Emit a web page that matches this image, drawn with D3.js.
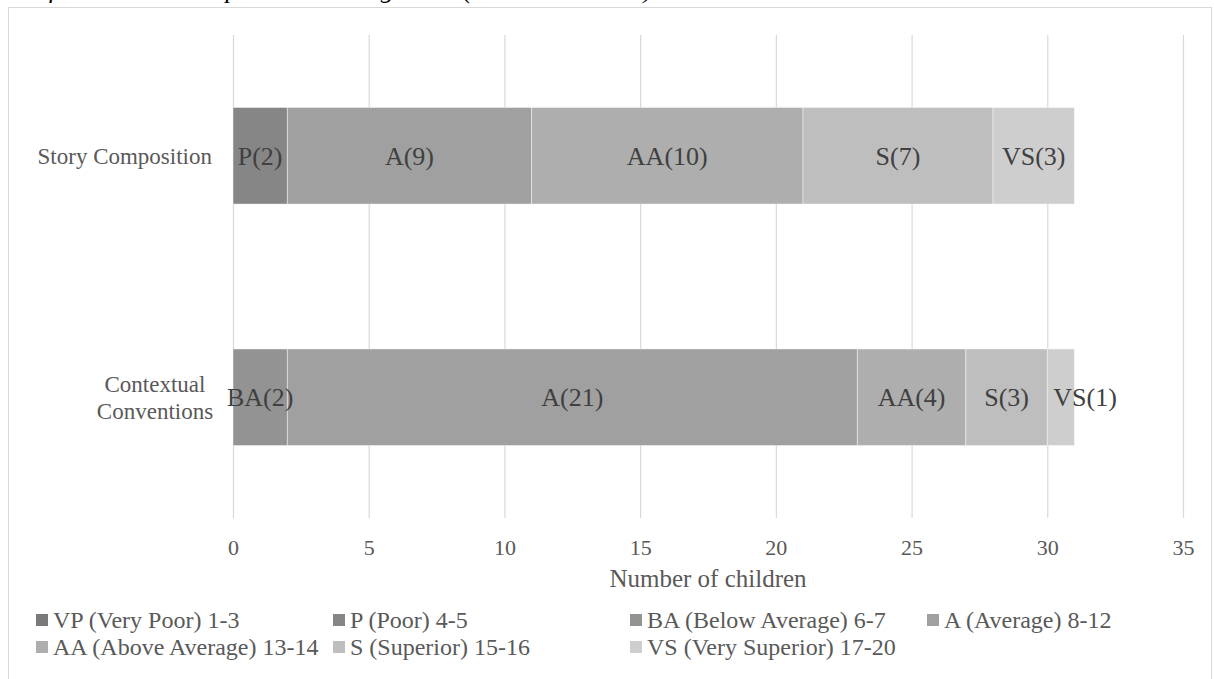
<!DOCTYPE html>
<html>
<head>
<meta charset="utf-8">
<script src="https://cdn.jsdelivr.net/npm/d3@7/dist/d3.min.js"></script>
<style>
  html, body { margin: 0; padding: 0; background: #ffffff; overflow: hidden; }
  svg { display: block; }
  svg text { font-family: "Liberation Serif", "Times New Roman", serif; }
</style>
</head>
<body>
<svg id="chart" width="1214" height="679"></svg>
<script>
// Writing skills, number of children per rating band
const skills = ["Story Composition", "Contextual Conventions"];
const bands = ["VP", "P", "BA", "A", "AA", "S", "VS"];
const bandNames = [
  "VP (Very Poor) 1-3",
  "P (Poor) 4-5",
  "BA (Below Average) 6-7",
  "A (Average) 8-12",
  "AA (Above Average) 13-14",
  "S (Superior) 15-16",
  "VS (Very Superior) 17-20"
];
const storyComposition = [0, 2, 0, 9, 10, 7, 3];
const contextualConventions = [0, 0, 2, 21, 4, 3, 1];
const xTicks = [0, 5, 10, 15, 20, 25, 30, 35];
const captionText = "Levels of Children's Composition Writing Skills (N = 31 Children)";

const SERIF = "Liberation Serif, Times New Roman, serif";
const bandColors = ["#7a7a7a", "#868686", "#939393", "#a0a0a0", "#aeaeae", "#bebebe", "#cecece"];

const seriesBySkill = [storyComposition, contextualConventions];
const rows = skills.map((s, i) => {
  const r = { skill: s };
  bands.forEach((b, j) => r[b] = seriesBySkill[i][j]);
  return r;
});

const svg = d3.select("#chart").attr("font-family", SERIF);

// caption line running above the frame (only its descenders reach the page)
svg.append("text")
  .attr("x", -37).attr("y", -2)
  .attr("font-family", SERIF)
  .attr("font-style", "italic")
  .attr("font-size", 26)
  .attr("fill", "#000")
  .text(captionText);

// chart frame
svg.append("rect")
  .attr("x", 8.5).attr("y", 7.5)
  .attr("width", 1203).attr("height", 700)
  .attr("fill", "#ffffff")
  .attr("stroke", "#d9d9d9")
  .attr("stroke-width", 1);

const plotTop = 35, plotBottom = 518;
const x = d3.scaleLinear().domain([0, 35]).range([233, 1183]);
const y = d3.scaleBand().domain(skills).range([plotTop, plotBottom])
  .paddingInner(0.6).paddingOuter(0.3);
const color = d3.scaleOrdinal().domain(bands).range(bandColors);

// vertical gridlines
svg.append("g")
  .attr("transform", `translate(0,${plotBottom})`)
  .call(d3.axisBottom(x).tickValues(xTicks).tickSize(-(plotBottom - plotTop)).tickFormat(""))
  .call(g => g.select(".domain").remove())
  .call(g => g.selectAll("line").attr("stroke", "#d9d9d9").attr("stroke-width", 1.2));

// x tick labels
svg.append("g")
  .attr("transform", `translate(0,${plotBottom})`)
  .call(d3.axisBottom(x).tickValues(xTicks).tickSize(0).tickPadding(21).tickFormat(d3.format("d")))
  .call(g => g.attr("font-family", SERIF).attr("font-size", 22))
  .call(g => g.select(".domain").remove())
  .call(g => g.selectAll("text")
    .attr("font-family", SERIF)
    .attr("font-size", 22)
    .attr("fill", "#595959"));

// axis title
svg.append("text")
  .attr("x", (x(0) + x(35)) / 2).attr("y", 578).attr("dy", "0.35em")
  .attr("text-anchor", "middle")
  .attr("font-family", SERIF)
  .attr("font-size", 25)
  .attr("fill", "#595959")
  .text("Number of children");

// stacked bars
const stacked = d3.stack().keys(bands)(rows);
const layers = svg.append("g").selectAll("g")
  .data(stacked).join("g")
  .attr("fill", d => color(d.key));

layers.selectAll("rect")
  .data(d => d.map(p => ({ key: d.key, p })))
  .join("rect")
  .filter(d => d.p[1] - d.p[0] > 0)
  .attr("x", d => x(d.p[0]))
  .attr("y", d => y(d.p.data.skill))
  .attr("width", d => x(d.p[1]) - x(d.p[0]))
  .attr("height", y.bandwidth())
  .attr("stroke", "#ffffff")
  .attr("stroke-opacity", 0.6)
  .attr("stroke-width", 0.75);

// segment labels, e.g. "A(9)"
const labelData = [];
stacked.forEach(layer => layer.forEach(p => {
  const v = p[1] - p[0];
  if (v > 0) labelData.push({ key: layer.key, v, p });
}));
const totals = rows.map(r => d3.sum(bands, b => r[b]));

svg.append("g").selectAll("text")
  .data(labelData).join("text")
  .attr("font-family", SERIF)
  .attr("font-size", 26)
  .attr("fill", "#404040")
  .attr("dy", "0.35em")
  .attr("y", d => y(d.p.data.skill) + y.bandwidth() / 2)
  .text(d => `${d.key}(${d.v})`)
  .each(function(d) {
    const w = this.getComputedTextLength();
    const x0 = x(d.p[0]), x1 = x(d.p[1]);
    const isLast = d.p[1] === totals[skills.indexOf(d.p.data.skill)];
    const sel = d3.select(this);
    if (isLast && w > (x1 - x0) * 1.5) {
      // too narrow at the bar end: start the label inside and let it run past
      sel.attr("x", x0 + 6).attr("text-anchor", "start");
    } else {
      sel.attr("x", (x0 + x1) / 2).attr("text-anchor", "middle");
    }
  });

// category labels
const catG = svg.append("g");
skills.forEach(s => {
  const words = s.split(" ");
  const cy = y(s) + y.bandwidth() / 2;
  if (s === "Story Composition") {
    catG.append("text")
      .attr("x", 212).attr("y", cy).attr("dy", "0.35em")
      .attr("text-anchor", "end")
      .attr("font-family", SERIF)
      .attr("font-size", 23).attr("fill", "#595959")
      .text(s);
  } else {
    const t = catG.append("text")
      .attr("text-anchor", "middle")
      .attr("font-family", SERIF)
      .attr("font-size", 23).attr("fill", "#595959");
    words.forEach((w, i) => {
      t.append("tspan")
        .attr("x", 155)
        .attr("y", cy - 13.5 + i * 27)
        .attr("dy", "0.35em")
        .text(w);
    });
  }
});

// legend, four columns by two rows
const legend = svg.append("g");
const colX = [36, 333, 630, 927];
const rowY = [620, 647];
bandNames.forEach((name, i) => {
  const cx = colX[i % 4], cy = rowY[Math.floor(i / 4)];
  const g = legend.append("g");
  g.append("rect")
    .attr("x", cx).attr("y", cy - 6)
    .attr("width", 12).attr("height", 12)
    .attr("fill", color(bands[i]));
  g.append("text")
    .attr("x", cx + 17).attr("y", cy).attr("dy", "0.35em")
    .attr("font-family", SERIF)
    .attr("font-size", 24).attr("fill", "#595959")
    .text(name);
});
</script>
</body>
</html>
